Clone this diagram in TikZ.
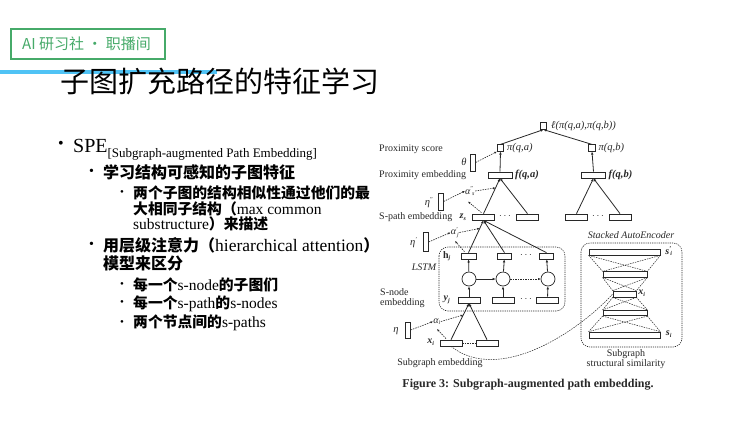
\documentclass[tikz,border=0pt]{standalone}
\usepackage{fontspec}
\setmainfont{Liberation Serif}
\newfontfamily\cjk{Noto Sans CJK SC}
\usetikzlibrary{arrows.meta,calc}
\newcommand{\fsz}[1]{\fontsize{#1}{#1}\selectfont}
\definecolor{brandgreen}{RGB}{70,170,105}
\definecolor{skyline}{RGB}{80,195,245}
\definecolor{ink}{RGB}{40,40,40}
\tikzset{
  txt/.style={inner sep=0pt, anchor=west},
  lab/.style={inner sep=0pt, font=\fsz{10}, text=ink},
  rbox/.style={draw=ink, line width=0.7pt, rectangle, minimum height=6pt, inner sep=0pt},
  sqbox/.style={draw=ink, line width=0.7pt, rectangle, minimum size=6.5pt, inner sep=0pt},
  vbox/.style={draw=ink, line width=0.7pt, rectangle, minimum width=4.5pt, inner sep=0pt},
  cell/.style={draw=ink, line width=0.7pt, circle, minimum size=14pt, inner sep=0pt},
  edge/.style={draw=ink, line width=0.8pt},
  up/.style={edge, -{Latex[length=3pt,width=2.6pt]}},
  att/.style={draw=ink, line width=0.6pt, dash pattern=on 1.5pt off 1pt, -{Latex[length=2.5pt,width=2.2pt]}},
  dotbox/.style={draw=ink, line width=0.6pt, dash pattern=on 1.2pt off 1pt, rounded corners=9pt},
  saeline/.style={draw=ink, line width=0.5pt, dash pattern=on 1.5pt off 1pt},
}
\begin{document}
\begin{tikzpicture}[x=1pt,y=-1pt]
\useasboundingbox (0,0) rectangle (740,440);
\fill[white] (0,0) rectangle (740,440);

% header
\draw[skyline, line width=3.5pt] (0,72) -- (217,72);
\node[draw=brandgreen, line width=1.8pt, minimum width=154pt, minimum height=30pt, inner sep=0pt] (brand) at (88,44) {};
\node[txt, text=brandgreen, font=\cjk\fsz{15}] (brandtxt) at (22,44) {AI 研习社 · 职播间};
\node[txt, font=\cjk\fsz{29}] (title) at (60,81) {子图扩充路径的特征学习};

% bullets
\node[txt, font=\fsz{16}] (b0) at (58,145) {•};
\node[txt, anchor=base west, font=\fsz{20}] (spe) at (73,152) {SPE\raisebox{-5.5pt}{\fsz{13}[Subgraph-augmented Path Embedding]}};
\node[txt, font=\fsz{14}] (b1) at (89,172) {•};
\node[txt, font=\cjk\bfseries\fsz{16}] (l1) at (103,172) {学习结构可感知的子图特征};
\node[txt, font=\fsz{11}] (b11) at (120,193) {•};
\node[txt, font=\cjk\bfseries\fsz{14.8}] (l11a) at (133,193) {两个子图的结构相似性通过他们的最};
\node[txt] (l11b) at (133,208.5) {{\cjk\bfseries\fsz{14.8}大相同子结构（}{\fsz{15.5}max common}};
\node[txt] (l11c) at (133,224) {{\fsz{15.5}substructure}{\cjk\bfseries\fsz{14.8}）来描述}};
\node[txt, font=\fsz{14}] (b2) at (89,245) {•};
\node[txt] (l2a) at (103,245) {{\cjk\bfseries\fsz{16}用层级注意力（}{\fsz{17.5}hierarchical attention}{\cjk\bfseries\fsz{16}）}};
\node[txt, font=\cjk\bfseries\fsz{16}] (l2b) at (103,263) {模型来区分};
\node[txt, font=\fsz{11}] (b21) at (120,285) {•};
\node[txt] (l21) at (133,285) {{\cjk\bfseries\fsz{14.8}每一个}{\fsz{15.5}s-node}{\cjk\bfseries\fsz{14.8}的子图们}};
\node[txt, font=\fsz{11}] (b22) at (120,303.5) {•};
\node[txt] (l22) at (133,303.5) {{\cjk\bfseries\fsz{14.8}每一个}{\fsz{15.5}s-path}{\cjk\bfseries\fsz{14.8}的}{\fsz{15.5}s-nodes}};
\node[txt, font=\fsz{11}] (b23) at (120,323) {•};
\node[txt] (l23) at (133,323) {{\cjk\bfseries\fsz{14.8}两个节点间的}{\fsz{15.5}s-paths}};

% ---------- figure ----------
% left labels
\node[lab, anchor=west] (tproxs) at (379,149) {Proximity score};
\node[lab, anchor=west] (tproxe) at (379,175.5) {Proximity embedding};
\node[lab, anchor=west] (tspath) at (379,217.5) {S-path embedding};
\node[lab, anchor=west, align=left] (tsnode) at (380,298) {S-node\\embedding};
\node[lab, font=\itshape\fsz{10}] (tlstm) at (424,267) {LSTM};
\node[lab] (tsubg) at (440,363) {Subgraph embedding};

% proximity levels
\node[sqbox] (top) at (543.5,126) {};
\node[lab, anchor=west, font=\itshape\fsz{10.5}] (ltop) at (551,126) {ℓ(π(q,a),π(q,b))};
\node[sqbox] (pa) at (500.5,148) {};
\node[sqbox] (pb) at (592,148) {};
\node[lab, anchor=west, font=\itshape\fsz{10.5}] (lpa) at (507,148) {π(q,a)};
\node[lab, anchor=west, font=\itshape\fsz{10.5}] (lpb) at (598.5,148) {π(q,b)};
\node[rbox, minimum width=24pt] (fa) at (500,175) {};
\node[rbox, minimum width=24pt] (fb) at (593.5,175) {};
\node[lab, anchor=west, font=\bfseries\itshape\fsz{10.5}] (lfa) at (515,175) {f(q,a)};
\node[lab, anchor=west, font=\bfseries\itshape\fsz{10.5}] (lfb) at (608.5,175) {f(q,b)};

% s-path level
\node[rbox, minimum width=22pt] (zs) at (483.5,217) {};
\node[lab] (zd1) at (505,216) {$\cdots$};
\node[rbox, minimum width=22pt] (z2) at (527.5,217) {};
\node[rbox, minimum width=22pt] (z3) at (576.5,217) {};
\node[lab] (zd2) at (598,216) {$\cdots$};
\node[rbox, minimum width=22pt] (z4) at (620,217) {};
\node[lab, font=\bfseries\itshape\fsz{10}] (lzs) at (463,217) {z\textsubscript{\fsz{6}s}};

% LSTM block
\draw[dotbox] (439,247) rectangle (565,311);
\node[rbox, minimum width=15pt] (h1) at (468.5,256) {};
\node[rbox, minimum width=14pt] (h2) at (504.5,256) {};
\node[lab] (hd) at (526,255) {$\cdots$};
\node[rbox, minimum width=14pt] (h3) at (546.5,256) {};
\node[lab, font=\bfseries\fsz{10}] (lh) at (447,256) {h\textsubscript{\itshape\fsz{6}j}};
\node[cell] (c1) at (469,279) {};
\node[cell] (c2) at (503,279) {};
\node[cell] (c3) at (548,279) {};
\node[rbox, minimum width=22pt] (y1) at (469,300) {};
\node[rbox, minimum width=22pt] (y2) at (503,300) {};
\node[lab] (yd) at (526,299) {$\cdots$};
\node[rbox, minimum width=22pt] (y3) at (547.5,300) {};
\node[lab, font=\bfseries\itshape\fsz{10}] (ly) at (447,300) {y\textsubscript{\fsz{6}j}};

% subgraph level
\node[rbox, minimum width=22pt] (x1) at (451,343) {};
\node[rbox, minimum width=22pt] (x2) at (487,343) {};
\node[lab, font=\bfseries\itshape\fsz{10}] (lx) at (431,342) {x\textsubscript{\fsz{6}i}};
\draw[saeline] (x1.east) -- (x2.west);

% tree edges
\draw[up] (pa.north) -- (top.south);
\draw[up] (pb.north) -- (top.south);
\draw[up] (fa.north) -- (pa.south);
\draw[up] (fb.north) -- (pb.south);
\draw[up] (zs.north) -- (fa.south);
\draw[up] (z2.north) -- (fa.south);
\draw[up] (z3.north) -- (fb.south);
\draw[up] (z4.north) -- (fb.south);
\draw[up] (h1.north) -- (zs.south);
\draw[up] (h2.north) -- (zs.south);
\draw[up] (h3.north) -- (zs.south);
\draw[up] (c1) -- (h1);
\draw[up] (c2) -- (h2);
\draw[up] (c3) -- (h3);
\draw[up] (y1) -- (c1);
\draw[up] (y2) -- (c2);
\draw[up] (y3) -- (c3);
\draw[up] (c1) -- (c2);
\draw[att, line width=0.7pt] (c2) -- (c3);
\draw[up] (x1.north) -- (y1.south);
\draw[up] (x2.north) -- (y1.south);

% attention: theta
\node[vbox, minimum height=17pt] (theta) at (473,162.5) {};
\node[lab, font=\itshape\fsz{10.5}] (ltheta) at (464,162) {θ};
\draw[att] (theta.east) -- (pa.south west);

% attention: eta''
\node[vbox, minimum height=17pt] (eta2) at (441,201.5) {};
\node[lab, font=\itshape\fsz{10.5}] (leta2) at (429,203) {η\textsuperscript{\fsz{6}\upshape ''}};
\node[lab, font=\itshape\fsz{10}] (alpha2) at (470,191) {α\textsuperscript{\fsz{6}\upshape ''}\kern-1.5pt\textsubscript{\fsz{6}s}};
\coordinate (a2hit) at ($(fa.south)!0.27!(zs.north)$);
\coordinate (a2src) at ($(zs.north)+(-2,-1)$);
\coordinate (a2dst) at (468,201.5);
\draw[att] (eta2.east) -- (alpha2.west);
\draw[att] (alpha2.east) -- (a2hit);
\draw[att] (a2src) -- (a2dst);

% attention: eta'
\node[vbox, minimum height=19pt] (eta1) at (426,242) {};
\node[lab, font=\itshape\fsz{10.5}] (leta1) at (414,243) {η\textsuperscript{\fsz{6}\upshape '}};
\node[lab, font=\itshape\fsz{10}] (alpha1) at (455,232.5) {α\textsuperscript{\fsz{6}\upshape '}\kern-1.5pt\textsubscript{\fsz{6}j}};
\coordinate (a1hit) at ($(zs.south)!0.25!(h1.north)$);
\coordinate (a1src) at ($(h1.north)+(-4,-1)$);
\coordinate (a1dst) at (455,241);
\draw[att] (eta1.east) -- (alpha1.west);
\draw[att] (alpha1.east) -- (a1hit);
\draw[att] (a1src) -- (a1dst);

% attention: eta
\node[vbox, minimum height=16pt] (eta0) at (408,330) {};
\node[lab, font=\itshape\fsz{10.5}] (leta0) at (396,331) {η};
\node[lab, font=\itshape\fsz{10}] (alpha0) at (437,321.5) {α\textsubscript{\fsz{6}i}};
\coordinate (a0hit) at ($(y1.south)!0.32!(x1.north)$);
\coordinate (a0src) at ($(x1.north)+(-5,-1)$);
\coordinate (a0dst) at (437,329);
\draw[att] (eta0.east) -- (alpha0.west);
\draw[att] (alpha0.east) -- (a0hit);
\draw[att] (a0src) -- (a0dst);

% stacked autoencoder
\draw[dotbox] (581,243) rectangle (682,347);
\node[lab, font=\itshape\fsz{10}] (tsae) at (631,235) {Stacked AutoEncoder};
\node[rbox, minimum width=71pt] (L1) at (624.5,252) {};
\node[rbox, minimum width=44pt, minimum height=5.5pt] (L2) at (625,274.5) {};
\node[rbox, minimum width=23pt] (L3) at (624.5,294) {};
\node[rbox, minimum width=44pt, minimum height=5.5pt] (L4) at (625,313) {};
\node[rbox, minimum width=71pt] (L5) at (624.5,335) {};
\foreach \a/\b in {L1/L2,L2/L3,L3/L4,L4/L5}{
  \draw[saeline] (\a.south west) -- (\b.north west);
  \draw[saeline] (\a.south west) -- (\b.north east);
  \draw[saeline] (\a.south east) -- (\b.north west);
  \draw[saeline] (\a.south east) -- (\b.north east);
}
\node[lab, font=\bfseries\itshape\fsz{10}] (ls1) at (669,251) {s\textsuperscript{\fsz{6}\upshape '}\kern-1.5pt\textsubscript{\fsz{6}i}};
\node[lab, font=\bfseries\itshape\fsz{10}] (lxi) at (642,293) {x\textsubscript{\fsz{6}i}};
\node[lab, font=\bfseries\itshape\fsz{10}] (ls0) at (669,334) {s\textsubscript{\fsz{6}i}};
\node[lab, align=center] (tsim) at (626,359.5) {Subgraph\\structural similarity};

% link from subgraph embedding to SAE
\draw[saeline] (x1.south) .. controls (500,385) and (580,330) .. (L3.west);

% caption
\node[lab, font=\bfseries\fsz{12}] (cap) at (528,385) {Figure 3: Subgraph-augmented path embedding.};
\end{tikzpicture}
\end{document}
